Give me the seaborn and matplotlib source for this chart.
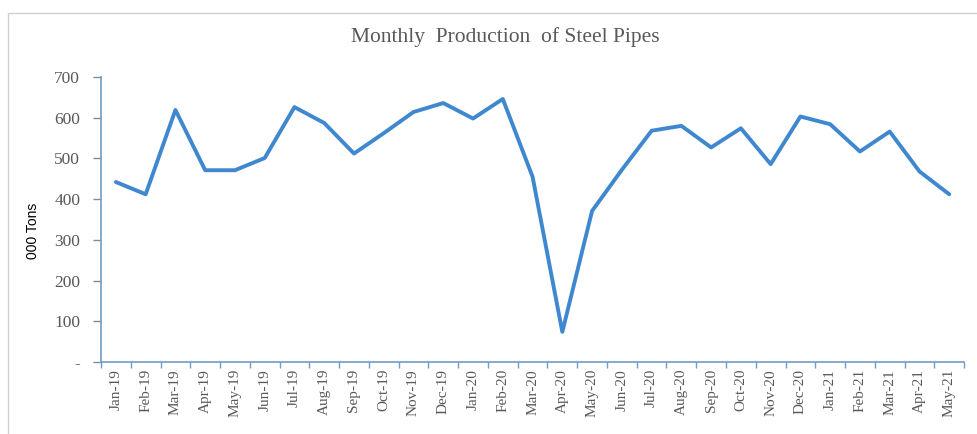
import numpy as np
import pandas as pd
import matplotlib
matplotlib.use('Agg')
import matplotlib.pyplot as plt
import seaborn as sns
from matplotlib.patches import Rectangle

# 数据
months = ['Jan-19', 'Feb-19', 'Mar-19', 'Apr-19', 'May-19', 'Jun-19', 'Jul-19',
          'Aug-19', 'Sep-19', 'Oct-19', 'Nov-19', 'Dec-19', 'Jan-20', 'Feb-20',
          'Mar-20', 'Apr-20', 'May-20', 'Jun-20', 'Jul-20', 'Aug-20', 'Sep-20',
          'Oct-20', 'Nov-20', 'Dec-20', 'Jan-21', 'Feb-21', 'Mar-21', 'Apr-21',
          'May-21']
production = [442, 412, 619, 471, 471, 501, 626, 587, 512, 562, 614, 636, 598, 646,
              455, 74, 371, 472, 568, 580, 527, 574, 486, 603, 584, 517, 566, 468,
              412]
y_ticks = [0, 100, 200, 300, 400, 500, 600, 700]
y_labels = ['-', '100', '200', '300', '400', '500', '600', '700']

df = pd.DataFrame({'month': months, 'tons': production})

sns.set_style('white')
serif = ['Liberation Serif', 'DejaVu Serif']

line_color = '#3f88cf'
axis_color = '#6f9bc9'
text_gray = '#595959'

fig = plt.figure(figsize=(9.77, 4.34), dpi=100)
ax = fig.add_axes([0.1034, 0.1659, 0.8834, 0.6567])

sns.lineplot(data=df, x='month', y='tons', sort=False, color=line_color,
             linewidth=2.8, ax=ax)

ax.set_xlim(-0.5, len(months) - 0.5)
ax.set_ylim(0, 700)

# 刻度：分类之间的主刻度，标签放在中心
ax.set_xticks(np.arange(-0.5, len(months), 1.0))
ax.set_xticklabels([])
ax.set_xticks(np.arange(len(months)), minor=True)
ax.set_xticklabels(months, minor=True, rotation=90, fontsize=11,
                   family=serif, color=text_gray)
ax.tick_params(axis='x', which='major', direction='out', length=4,
               width=1, color=axis_color, bottom=True)
ax.tick_params(axis='x', which='minor', length=0, pad=5)

ax.set_yticks(y_ticks)
ax.set_yticklabels(y_labels, fontsize=12.5, family=serif, color=text_gray)
ax.tick_params(axis='y', direction='out', length=6, width=1,
               color='#8c8c8c', left=True, pad=9)

for side in ['top', 'right']:
    ax.spines[side].set_visible(False)
for side in ['left', 'bottom']:
    ax.spines[side].set_color(axis_color)
    ax.spines[side].set_linewidth(1.2)

ax.set_xlabel('')
ax.set_ylabel('000 Tons', fontsize=10, family=['Liberation Sans', 'DejaVu Sans'],
              color='black')
ax.yaxis.set_label_coords(-0.071, 0.46)

fig.text(0.517, 0.915, 'Monthly  Production  of Steel Pipes', ha='center', va='center',
         fontsize=15.5, family=serif, color=text_gray)

# 外框
fig.patches.append(Rectangle((8 / 977, -0.05), 1.1, 0.97 + 0.05,
                             transform=fig.transFigure, fill=False,
                             edgecolor='#d0d0d0', linewidth=1.0))

plt.savefig('out.png', dpi=100)
plt.close()
